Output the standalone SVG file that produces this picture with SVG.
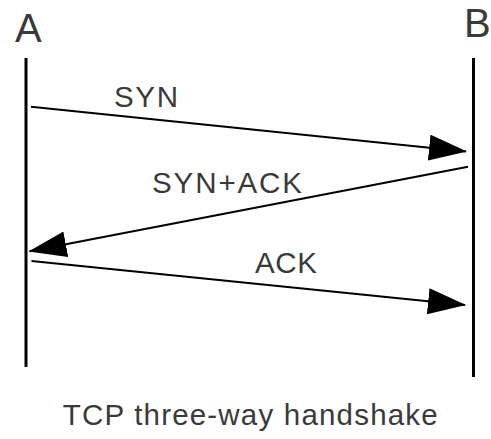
<svg xmlns="http://www.w3.org/2000/svg" width="491" height="439" viewBox="0 0 491 439">
  <style>
    .label { font-family: "Liberation Sans", Arial, sans-serif; fill: #3a3a3a; }
    .host { font-size: 40px; }
    .msg { font-size: 29.5px; }
    .lifeline { stroke: #000; stroke-width: 3; fill: none; }
    .msgline { stroke: #000; stroke-width: 2; fill: none; }
  </style>
  <defs>
    <!-- filled triangular arrowhead, tip at the path end -->
    <marker id="head" markerUnits="userSpaceOnUse" markerWidth="38" markerHeight="26"
            viewBox="0 0 38 26" refX="37" refY="13" orient="auto">
      <path d="M0,0 L38,13 L0,26 z" fill="#000"/>
    </marker>
  </defs>

  <rect width="491" height="439" fill="#fff"/>

  <!-- host A -->
  <g id="host-a">
    <text class="label host" x="15" y="42">A</text>
    <line class="lifeline" x1="26" y1="58" x2="26" y2="367"/>
  </g>

  <!-- host B -->
  <g id="host-b">
    <text class="label host" x="464" y="37">B</text>
    <line class="lifeline" x1="473.5" y1="58" x2="473.5" y2="377"/>
  </g>

  <!-- messages -->
  <g id="messages">
    <line class="msgline" x1="31" y1="106.7" x2="466" y2="151.4" marker-end="url(#head)"/>
    <line class="msgline" x1="468" y1="166.7" x2="29.5" y2="251.3" marker-end="url(#head)"/>
    <line class="msgline" x1="31.5" y1="261" x2="465" y2="305" marker-end="url(#head)"/>
  </g>

  <g id="message-labels">
    <text class="label msg" x="114" y="107" textLength="64">SYN</text>
    <text class="label msg" x="152" y="193" textLength="150">SYN+ACK</text>
    <text class="label msg" x="255" y="273" textLength="62">ACK</text>
  </g>

  <g id="caption">
    <text class="label msg" x="62.7" y="425" textLength="375">TCP three-way handshake</text>
  </g>
</svg>
